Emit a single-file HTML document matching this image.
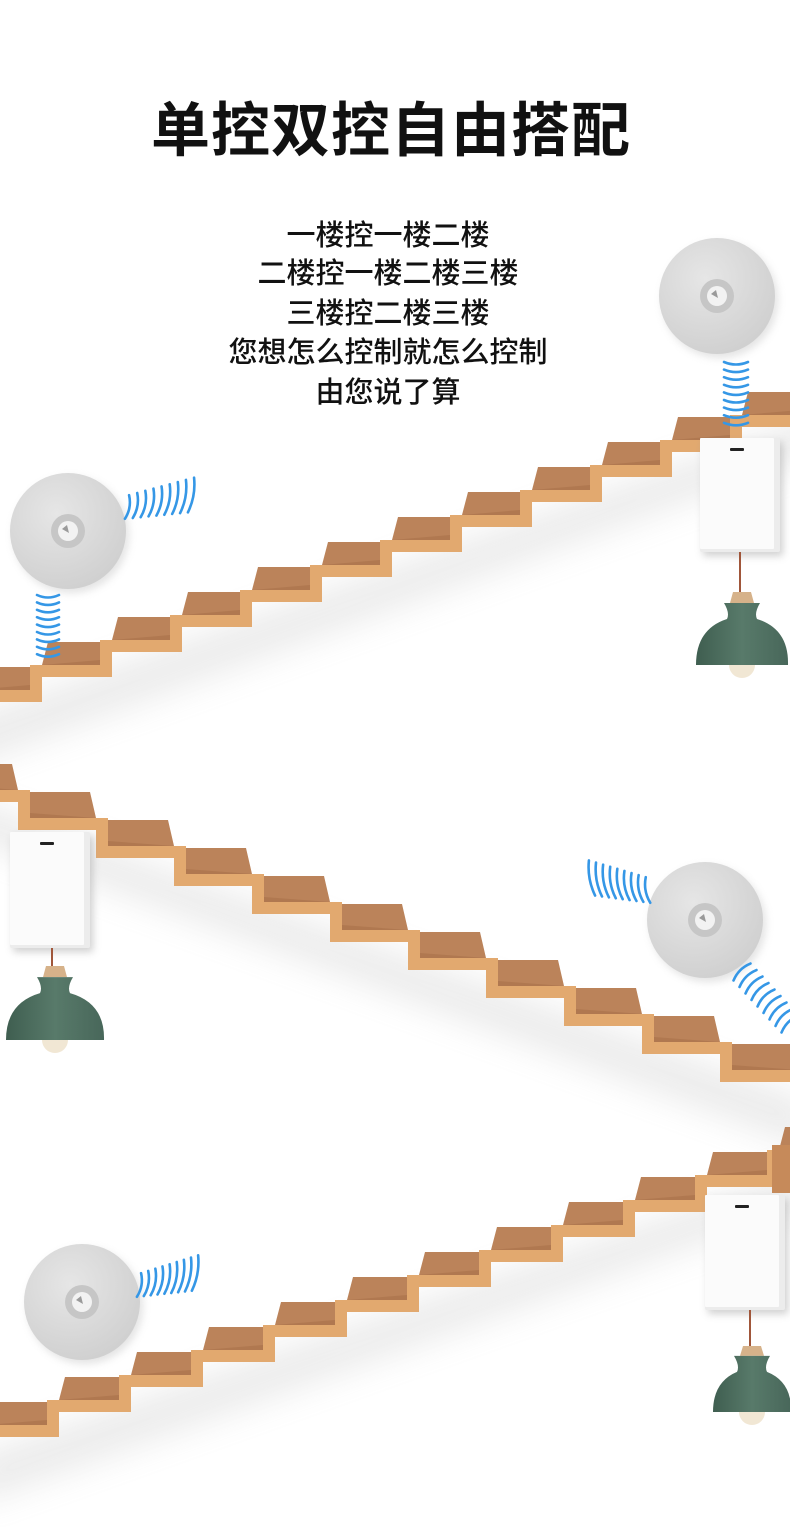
<!DOCTYPE html>
<html><head><meta charset="utf-8">
<style>
html,body{margin:0;padding:0;background:#fff;}
#wrap{position:relative;width:790px;height:1527px;overflow:hidden;background:#fff;font-family:"Liberation Sans","Noto Sans CJK SC",sans-serif;}
h1{position:absolute;left:0;width:782px;top:95px;margin:0;text-align:center;font-size:59px;font-weight:700;color:#111;letter-spacing:1px;line-height:72px;}
.t{position:absolute;left:0;width:776px;text-align:center;font-size:29px;font-weight:500;color:#111;line-height:34px;}
svg{position:absolute;left:0;top:0;}
</style></head><body><div id="wrap">
<svg id="s" width="790" height="1527" viewBox="0 0 790 1527">
<defs>
<filter id="bl" x="-20%" y="-50%" width="140%" height="200%"><feGaussianBlur stdDeviation="16"/></filter>
<filter id="sh" x="-30%" y="-30%" width="160%" height="160%"><feGaussianBlur stdDeviation="4"/></filter>
<radialGradient id="dg" cx="0.4" cy="0.35" r="0.7"><stop offset="0" stop-color="#e6e6e6"/><stop offset="1" stop-color="#cfcfcf"/></radialGradient>
<linearGradient id="lg" x1="0" y1="0" x2="1" y2="0"><stop offset="0" stop-color="#3f5e50"/><stop offset="0.5" stop-color="#587a6a"/><stop offset="1" stop-color="#48675a"/></linearGradient>
</defs>
<g id="stairs"></g>
<g id="items"></g>
</svg>
<h1>单控双控自由搭配</h1>
<div class="t" style="top:219px">一楼控一楼二楼</div>
<div class="t" style="top:257px">二楼控一楼二楼三楼</div>
<div class="t" style="top:297px">三楼控二楼三楼</div>
<div class="t" style="top:336px">您想怎么控制就怎么控制</div>
<div class="t" style="top:376px">由您说了算</div>
</div>
<script>
var NS="http://www.w3.org/2000/svg";
function el(p,tag,a){var e=document.createElementNS(NS,tag);for(var k in a)e.setAttribute(k,a[k]);p.appendChild(e);return e;}
var S=document.getElementById("stairs"),I=document.getElementById("items");
function stair(x0,y0,run,rise,n,mirror){
  var g=el(S,"g",mirror?{transform:"translate(790,0) scale(-1,1)"}:{});
  var T=12;
  var xe=x0+n*run, ye=y0-n*rise;
  el(g,"polygon",{points:(x0)+","+(y0+30)+" "+xe+","+(ye+30)+" "+xe+","+(ye+70)+" "+x0+","+(y0+80),fill:"#aaa",opacity:"0.22",filter:"url(#bl)"});
  var pts=[];
  for(var i=0;i<n;i++){
    var X=x0+i*run,Y=y0-i*rise,X2=X+run,Y2=Y-rise;
    el(g,"polygon",{points:(X+T)+","+Y+" "+X2+","+Y+" "+X2+","+(Y2+2)+" "+(X+T+6)+","+(Y2+2),fill:"#bb835a"});
    el(g,"polygon",{points:(X+T)+","+Y+" "+X2+","+Y+" "+X2+","+(Y-5),fill:"#a8714a",opacity:"0.6"});
    pts.push(X+","+(Y+T/2));pts.push((X2+T/2)+","+(Y+T/2));pts.push((X2+T/2)+","+(Y2+T/2));
  }
  el(g,"polyline",{points:pts.join(" "),fill:"none",stroke:"#e2a96f","stroke-width":T,"stroke-linejoin":"miter"});
}
stair(-40,690,70,25,13,false);
stair(-20,1070,78,28,11,true);
stair(-25,1425,72,25,12,false);
el(S,"rect",{x:772,y:1145,width:18,height:48,fill:"#c68a5a"});

function disc(cx,cy,r){
  el(I,"ellipse",{cx:cx+3,cy:cy+4,rx:r,ry:r,fill:"#bbb",opacity:"0.4",filter:"url(#sh)"});
  el(I,"circle",{cx:cx,cy:cy,r:r,fill:"url(#dg)"});
  el(I,"circle",{cx:cx,cy:cy,r:17,fill:"#c6c6c6"});
  el(I,"circle",{cx:cx,cy:cy,r:10,fill:"#f2f2f2"});
  el(I,"path",{d:"M"+(cx-6)+" "+(cy-2)+" l5 -4 l2 8 z",fill:"#9a9a9a"});
}
function wave(cx,cy,len,ang){
  var g=el(I,"g",{transform:"translate("+cx+","+cy+") rotate("+ang+")"});
  el(g,"path",{d:"M"+(-len/2)+" 0 Q0 -5 "+(len/2)+" 0",fill:"none",stroke:"#3597e6","stroke-width":2.6,"stroke-linecap":"round"});
}
disc(717,296,58);
for(var i=0;i<9;i++)wave(736,362+i*7.6,24,180);
disc(68,531,58);
for(var i=0;i<9;i++)wave(127+i*8,507-i*1.5,24+i*1.4,100);
for(var i=0;i<9;i++)wave(48,595+i*7.4,22,180);
disc(705,920,58);
for(var i=0;i<9;i++)wave(648-i*7,890-i*1.5,26+i*1.2,-100);
for(var i=0;i<9;i++)wave(742+i*6,972+i*6.5,24,-45);
disc(82,1302,58);
for(var i=0;i<9;i++)wave(139+i*7,1285-i*1.5,24+i*1.5,100);

function sw(x,y,w,h){
  el(I,"rect",{x:x+3,y:y+4,width:w,height:h,fill:"#999",opacity:"0.45",filter:"url(#sh)"});
  el(I,"rect",{x:x,y:y,width:w,height:h,fill:"#ececec",rx:2});
  el(I,"rect",{x:x,y:y,width:w-6,height:h-3,fill:"#fbfbfb",rx:1});
  el(I,"rect",{x:x+w/2-10,y:y+10,width:14,height:3,fill:"#222",rx:1});
}
function lamp(cx,top,bot,w){
  el(I,"circle",{cx:cx,cy:bot,r:13,fill:"#f1e7d4"});
  var nh=bot-top;
  el(I,"path",{d:"M"+(cx-9)+" "+top+" h18 l3 "+(nh*0.15)+" h-24 z",fill:"#d6b28a"});
  var y1=top+nh*0.15;
  el(I,"path",{d:"M"+(cx-18)+" "+y1+" h36 q-6 10 -3 16 q"+(w/2-14)+" 10 "+(w/2-15)+" "+(nh*0.85-16)+" h"+(-w)+" q0 "+(-(nh*0.85-26))+" "+(w/2-15)+" "+(-(nh*0.85-16))+" q3 -6 -3 -16 z",fill:"url(#lg)"});
}
sw(700,438,80,114);
el(I,"line",{x1:740,y1:552,x2:740,y2:596,stroke:"#a0563a","stroke-width":2});
lamp(742,592,665,92);
sw(10,832,80,116);
el(I,"line",{x1:52,y1:948,x2:52,y2:968,stroke:"#a0563a","stroke-width":2});
lamp(55,966,1040,98);
sw(705,1195,80,115);
el(I,"line",{x1:750,y1:1310,x2:750,y2:1348,stroke:"#a0563a","stroke-width":2});
lamp(752,1346,1412,78);
</script>
</body></html>
